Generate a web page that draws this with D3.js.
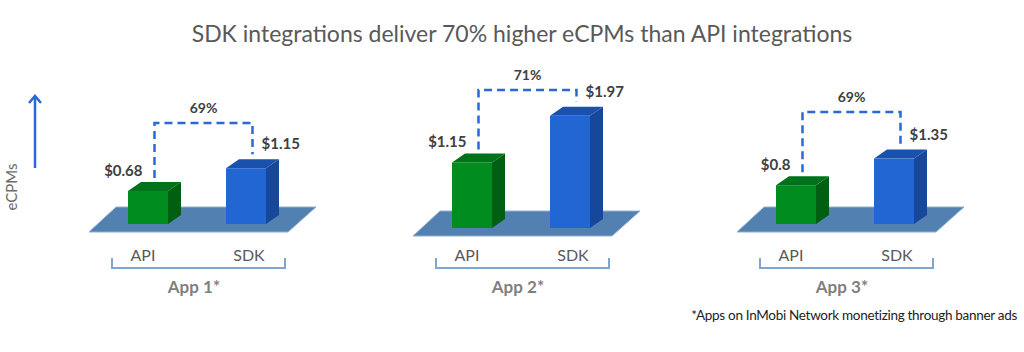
<!DOCTYPE html>
<html>
<head>
<meta charset="utf-8">
<script src="https://cdn.jsdelivr.net/npm/d3@7"></script>
<style>
  body { margin: 0; background: #fff; }
  text { font-family: Lato, "Open Sans", sans-serif; }
</style>
</head>
<body>
<svg id="chart"></svg>
<script>
// chart data
var apps = ["App 1*", "App 2*", "App 3*"];
var platforms = ["API", "SDK"];
var apiValues = [0.68, 1.15, 0.8];
var sdkValues = [1.15, 1.97, 1.35];
var uplift = ["69%", "71%", "69%"];
var apiLabels = ["$0.68", "$1.15", "$0.8"];
var sdkLabels = ["$1.15", "$1.97", "$1.35"];

var width = 1024, height = 352;

// each panel is drawn as its own little 3d chart
var panels = [
  {cx: 197, base: 224, pxPerUnit: 48.5, linkY: 123},
  {cx: 521, base: 228, pxPerUnit: 57, linkY: 90},
  {cx: 845, base: 224, pxPerUnit: 48.5, linkY: 112}
];

var barW = 40, depthX = 13, depthY = -9;

const svg = d3.select("#chart").attr("width", width).attr("height", height);

// title
svg.append("text")
  .attr("x", 522).attr("y", 42)
  .attr("text-anchor", "middle")
  .style("font-size", "23px")
  .style("fill", "#595959")
  .text("SDK integrations deliver 70% higher eCPMs than API integrations");

// y axis hint: label + arrow
svg.append("text")
  .attr("transform", "translate(17,187) rotate(-90)")
  .attr("text-anchor", "middle")
  .style("font-size", "15px")
  .style("fill", "#6b6b6b")
  .text("eCPMs");

svg.append("line")
  .attr("x1", 35).attr("x2", 35).attr("y1", 168).attr("y2", 96)
  .attr("stroke", "#2a68d8").attr("stroke-width", 2.5);
svg.append("path")
  .attr("d", "M29,103 L35,96 L41,103")
  .attr("fill", "none").attr("stroke", "#2a68d8").attr("stroke-width", 2.5);

var colors = {
  API: {front: "#008c1e", top: "#00721a", side: "#005f12"},
  SDK: {front: "#2266d4", top: "#1a51ac", side: "#16479a"}
};

apps.forEach(function(app, i) {
  var p = panels[i];
  var g = svg.append("g");
  var vals = [apiValues[i], sdkValues[i]];

  var x = d3.scalePoint().domain(platforms).range([p.cx - 49, p.cx + 49]);
  var y = d3.scaleLinear().domain([0, 2]).range([p.base, p.base - 2 * p.pxPerUnit]);

  // floor
  var gl = x("API") - barW / 2, br = x("SDK") + barW / 2;
  var fb = p.base + 8, ft = p.base - 17;
  g.append("path")
    .attr("d", "M" + (gl - 39) + "," + fb + " L" + (br + 22) + "," + fb +
               " L" + (br + 50) + "," + ft + " L" + (gl - 12) + "," + ft + "Z")
    .attr("fill", "#5281b1").attr("stroke", "#8fb0d3").attr("stroke-width", 1);

  // bars
  platforms.forEach(function(k, j) {
    var x0 = x(k) - barW / 2, x1 = x0 + barW;
    var yt = y(vals[j]), yb = y(0);
    var c = colors[k];
    g.append("path")
      .attr("d", "M" + x1 + "," + yt + " L" + (x1 + depthX) + "," + (yt + depthY) +
                 " L" + (x1 + depthX) + "," + (yb + depthY) + " L" + x1 + "," + yb + "Z")
      .attr("fill", c.side);
    g.append("path")
      .attr("d", "M" + x0 + "," + yt + " L" + (x0 + depthX) + "," + (yt + depthY) +
                 " L" + (x1 + depthX) + "," + (yt + depthY) + " L" + x1 + "," + yt + "Z")
      .attr("fill", c.top);
    g.append("rect")
      .attr("x", x0).attr("y", yt)
      .attr("width", barW).attr("height", yb - yt)
      .attr("fill", c.front);
  });

  // dashed connector between the two bars
  var lx = x("API") + depthX / 2, rx = x("SDK") + depthX / 2;
  var apiTop = y(vals[0]) + depthY, sdkTop = y(vals[1]) + depthY;
  g.append("path")
    .attr("d", "M" + lx + "," + (apiTop - 4) + " L" + lx + "," + p.linkY +
               " L" + rx + "," + p.linkY + " L" + rx + "," + (sdkTop - 5))
    .attr("fill", "none")
    .attr("stroke", "#2a68d8").attr("stroke-width", 2.5)
    .attr("stroke-dasharray", "8,5");

  g.append("text")
    .attr("x", (lx + rx) / 2).attr("y", p.linkY - 10)
    .attr("text-anchor", "middle")
    .style("font-size", "14px").style("font-weight", "bold").style("fill", "#404040")
    .text(uplift[i]);

  g.append("text")
    .attr("x", lx - 12).attr("y", y(vals[0]) - 15)
    .attr("text-anchor", "end")
    .style("font-size", "15px").style("font-weight", "bold").style("fill", "#404040")
    .text(apiLabels[i]);

  g.append("text")
    .attr("x", rx + 9).attr("y", sdkTop - 10)
    .style("font-size", "15px").style("font-weight", "bold").style("fill", "#404040")
    .text(sdkLabels[i]);

  // category labels
  g.selectAll(".cat")
    .data(platforms)
    .join("text")
      .attr("x", function(d) { return d === "API" ? p.cx - 54 : p.cx + 52; })
      .attr("y", 261)
      .attr("text-anchor", "middle")
      .style("font-size", "16px").style("fill", "#595959")
      .text(function(d) { return d; });

  // bracket
  g.append("path")
    .attr("d", "M" + (p.cx - 85) + ",258 L" + (p.cx - 85) + ",268 L" + (p.cx + 88) + ",268 L" + (p.cx + 88) + ",258")
    .attr("fill", "none").attr("stroke", "#7fa6d0").attr("stroke-width", 2);

  g.append("text")
    .attr("x", p.cx - 3).attr("y", 293)
    .attr("text-anchor", "middle")
    .style("font-size", "17px").style("font-weight", "bold").style("fill", "#7f7f7f")
    .text(app);
});

// footnote
svg.append("text")
  .attr("x", 1017).attr("y", 320)
  .attr("text-anchor", "end")
  .style("font-size", "13.5px").style("letter-spacing", "-0.3px").style("fill", "#222")
  .text("*Apps on InMobi Network monetizing through banner ads");
</script>
</body>
</html>
